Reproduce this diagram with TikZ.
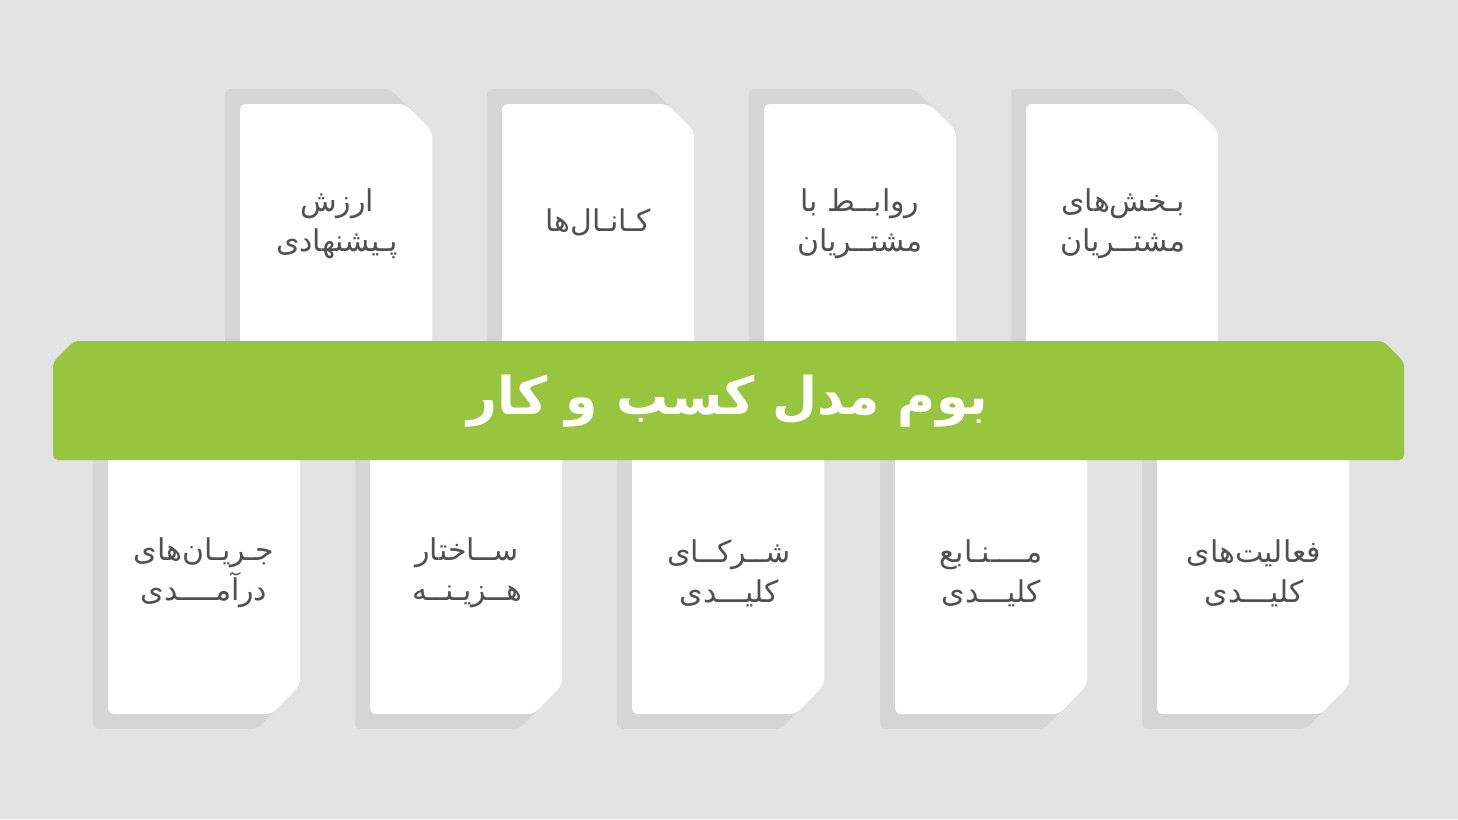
\documentclass[tikz,border=0pt]{standalone}
\usepackage{fontspec}
\usepackage{xcolor}
\usepackage{tikz}
\TeXXeTstate=1
\newfontfamily\farsifont[Script=Arabic]{DejaVu Sans}
\definecolor{bgGray}{HTML}{E3E3E3}
\definecolor{shadowGray}{HTML}{D5D5D5}
\definecolor{canvasGreen}{HTML}{97C53D}
\definecolor{labelGray}{HTML}{505050}

\begin{document}
\begin{tikzpicture}[x=1pt, y=-1pt]
  \tikzstyle{shadow} = [fill=shadowGray, rounded corners=6pt]
  \tikzstyle{card} = [fill=white, rounded corners=6pt]
  \tikzstyle{block} = [text=labelGray, font=\farsifont\fontsize{30}{40}\selectfont, align=center, inner sep=0pt]
  \tikzstyle{title} = [text=white, font=\farsifont\bfseries\fontsize{52}{60}\selectfont, inner sep=0pt]

  \useasboundingbox (0,0) rectangle (1458,819);
  \fill[bgGray] (0,0) rectangle (1458,819);

  % top row
  \foreach \x in {240,502,764,1026} {
    \fill[shadow] (\x-15,89) -- (\x+150,89) -- (\x+177,116) -- (\x+177,380) -- (\x-15,380) -- cycle;
    \fill[card] (\x,104) -- (\x+165,104) -- (\x+192,131) -- (\x+192,380) -- (\x,380) -- cycle;
  }
  % bottom row
  \foreach \x in {108,370,632,895,1157} {
    \fill[shadow] (\x-15,420) -- (\x+177,420) -- (\x+177,700) -- (\x+149,729) -- (\x-15,729) -- cycle;
    \fill[card] (\x,420) -- (\x+192,420) -- (\x+192,685) -- (\x+164,714) -- (\x,714) -- cycle;
  }

  % banner
  \fill[canvasGreen, rounded corners=5pt] (53,362) -- (74,341) -- (1383,341) -- (1404,362) -- (1404,460) -- (53,460) -- cycle;
  \node[title] (canvas) at (728,401) {\beginR بوم مدل کسب و کار\endR};

  \node[block] (value) at (337,224) {\beginR ارزش\endR\\ \beginR پـیشنهادی\endR};
  \node[block] (channels) at (598,222) {\beginR کـانـال‌ها\endR};
  \node[block] (relations) at (860,224) {\beginR روابــط با\endR\\ \beginR مشتــریان\endR};
  \node[block] (segments) at (1123,224) {\beginR بـخش‌های\endR\\ \beginR مشتــریان\endR};

  \node[block] (revenue) at (204,573) {\beginR جـریـان‌های\endR\\ \beginR درآمــــدی\endR};
  \node[block] (cost) at (467,573) {\beginR ســاختار\endR\\ \beginR هــزیـنــه\endR};
  \node[block] (partners) at (729,573) {\beginR شــرکــای\endR\\ \beginR کلیـــدی\endR};
  \node[block] (resources) at (991,573) {\beginR مــــنـابع\endR\\ \beginR کلیـــدی\endR};
  \node[block] (activities) at (1254,573) {\beginR فعالیت‌های\endR\\ \beginR کلیـــدی\endR};
\end{tikzpicture}
\end{document}
